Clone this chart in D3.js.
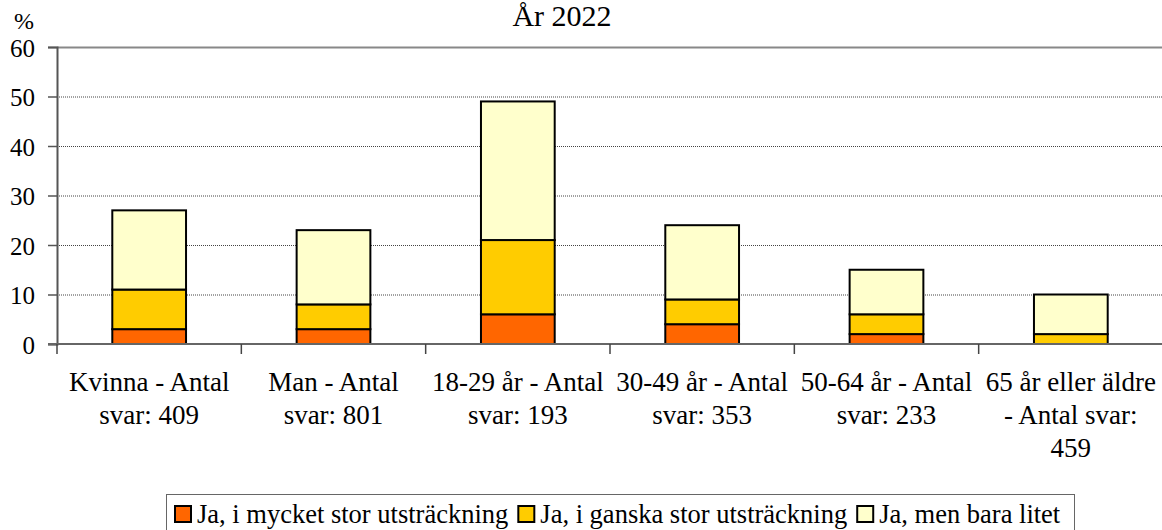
<!DOCTYPE html>
<html>
<head>
<meta charset="utf-8">
<script src="https://cdn.jsdelivr.net/npm/d3@7"></script>
<style>
  body { margin: 0; background: #fff; }
  svg text { font-family: "Liberation Serif", "Times New Roman", serif; fill: #000; }
</style>
</head>
<body>
<div id="chart"></div>
<script>
// categories (line breaks as in the picture)
var categories = [
  "Kvinna - Antal\nsvar: 409",
  "Man - Antal\nsvar: 801",
  "18-29 år - Antal\nsvar: 193",
  "30-49 år - Antal\nsvar: 353",
  "50-64 år - Antal\nsvar: 233",
  "65 år eller äldre\n- Antal svar:\n459"
];
var seriesNames = ["Ja, i mycket stor utsträckning", "Ja, i ganska stor utsträckning", "Ja, men bara litet"];
var mycketStor = [3, 3, 6, 4, 2, 0];
var ganskaStor = [8, 5, 15, 5, 4, 2];
var baraLitet = [16, 15, 28, 15, 9, 8];
var yTicks = [0, 10, 20, 30, 40, 50, 60];
var colors = ["#ff6600", "#ffcc00", "#ffffcc"];

var W = 1162, H = 530;
var margin = {top: 47, right: -1, bottom: 186, left: 57};
var FONT = "'Liberation Serif', 'Times New Roman', serif";

var svg = d3.select("#chart").append("svg")
    .attr("width", W)
    .attr("height", H)
    .attr("font-family", FONT);

var x = d3.scaleBand()
    .domain(categories)
    .range([margin.left, W - margin.right]);

var y = d3.scaleLinear()
    .domain([0, 60])
    .range([H - margin.bottom, margin.top]);

// build stack data
var rows = categories.map(function(c, i) {
  return {cat: c, s0: mycketStor[i], s1: ganskaStor[i], s2: baraLitet[i]};
});
var stacked = d3.stack().keys(["s0", "s1", "s2"])(rows);

// gridlines
svg.append("g").selectAll("line")
  .data(yTicks.filter(function(d) { return d > 0; }))
  .enter().append("line")
    .attr("x1", margin.left)
    .attr("x2", W)
    .attr("y1", function(d) { return y(d) + 0.5; })
    .attr("y2", function(d) { return y(d) + 0.5; })
    .attr("stroke", function(d) { return d == 60 ? "#888" : "#444"; })
    .attr("stroke-width", function(d) { return d == 60 ? 2 : 1; })
    .attr("stroke-dasharray", function(d) { return d == 60 ? null : "1,1"; });

// bars
var barW = x.bandwidth() * 0.4;
stacked.forEach(function(layer, k) {
  svg.append("g").selectAll("rect")
    .data(layer.filter(function(d) { return d[1] > d[0]; }))
    .enter().append("rect")
      .attr("x", function(d) { return x(d.data.cat) + (x.bandwidth() - barW) / 2; })
      .attr("y", function(d) { return y(d[1]); })
      .attr("width", barW)
      .attr("height", function(d) { return y(d[0]) - y(d[1]); })
      .attr("fill", colors[k])
      .attr("stroke", "#000")
      .attr("stroke-width", 2);
});

// y axis
var yAxis = svg.append("g")
    .attr("transform", "translate(" + margin.left + ",0)")
    .call(d3.axisLeft(y).tickValues(yTicks).tickSize(9).tickPadding(13));
yAxis.attr("font-family", FONT);
yAxis.select(".domain").attr("stroke", "#555").attr("stroke-width", 2);
yAxis.selectAll(".tick line").attr("stroke", "#555").attr("stroke-width", 1.5);
yAxis.selectAll(".tick text").attr("font-size", "25px").attr("dy", "0.36em");

// x axis
var xAxis = svg.append("g")
    .attr("transform", "translate(0," + y(0) + ")");
xAxis.append("line")
    .attr("x1", margin.left - 9).attr("x2", W)
    .attr("stroke", "#666").attr("stroke-width", 2);
xAxis.selectAll(".xt")
  .data(categories)
  .enter().append("line")
    .attr("class", "xt")
    .attr("x1", function(d) { return x(d); })
    .attr("x2", function(d) { return x(d); })
    .attr("y1", 0).attr("y2", 10)
    .attr("stroke", "#444").attr("stroke-width", 1.5);

var labels = xAxis.selectAll(".xl")
  .data(categories)
  .enter().append("text")
    .attr("class", "xl")
    .attr("x", function(d) { return x(d) + x.bandwidth() / 2; })
    .attr("y", 47)
    .attr("text-anchor", "middle")
    .attr("font-size", "27px");
labels.each(function(d) {
  var t = d3.select(this);
  d.split("\n").forEach(function(line, i) {
    t.append("tspan")
      .attr("x", x(d) + x.bandwidth() / 2)
      .attr("dy", i == 0 ? 0 : 33)
      .text(line);
  });
});

// title and unit
svg.append("text")
    .attr("x", 562).attr("y", 26)
    .attr("text-anchor", "middle")
    .attr("font-size", "30px")
    .text("År 2022");
svg.append("text")
    .attr("x", 24).attr("y", 29)
    .attr("text-anchor", "middle")
    .attr("font-size", "24px")
    .text("%");

// legend
var legend = svg.append("g");
legend.append("rect")
    .attr("x", 166.5).attr("y", 494.5)
    .attr("width", 908).attr("height", 60)
    .attr("fill", "#fff")
    .attr("stroke", "#666").attr("stroke-width", 1);
var lx = 175;
seriesNames.forEach(function(name, i) {
  legend.append("rect")
    .attr("x", lx).attr("y", 506)
    .attr("width", 16).attr("height", 16)
    .attr("fill", colors[i])
    .attr("stroke", "#000").attr("stroke-width", 2);
  var t = legend.append("text")
    .attr("x", lx + 22).attr("y", 523)
    .attr("font-size", "26.5px")
    .text(name);
  lx = lx + 22 + t.node().getComputedTextLength() + 10;
});
</script>
</body>
</html>
